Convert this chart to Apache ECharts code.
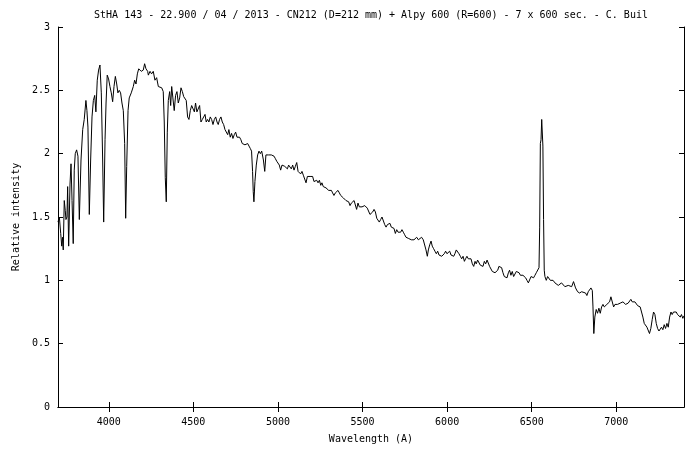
<!DOCTYPE html>
<html>
<head>
<meta charset="utf-8">
<script src="https://cdn.jsdelivr.net/npm/echarts@6/dist/echarts.min.js"></script>
<style>html,body{margin:0;padding:0;background:#fff}#c{width:700px;height:450px}</style>
</head>
<body>
<div id="c"></div>
<script>
const titleText = 'StHA 143 - 22.900 / 04 / 2013 - CN212 (D=212 mm) + Alpy 600 (R=600) - 7 x 600 sec. - C. Buil';
const xTicks = [4000, 4500, 5000, 5500, 6000, 6500, 7000];
const yTicks = [0, 0.5, 1, 1.5, 2, 2.5, 3];

const wavelength = [
3700,3708,3716,3722,3727,3731,3737,3743,3747,3753,3757,3763,3771,3777,3783,3790,3796,3802,3810,3818,
3826,3836,3846,3855,3865,3871,3877,3885,3893,3901,3909,3917,3924,3932,3940,3948,3956,3964,3970,3978,
3984,3991,3999,4007,4015,4023,4031,4039,4047,4054,4062,4070,4078,4086,4094,4100,4106,4114,4121,4133,
4145,4153,4161,4169,4177,4184,4192,4204,4212,4220,4230,
4234,4244,4253,4263,4273,4283,4293,4303,4313,4322,4328,4334,4340,4346,4352,4360,4366,4372,4379,4387,
4395,4403,4411,4419,4427,4435,4443,4450,4458,4466,4474,4482,4490,4498,4506,4513,4521,4529,4537,4545,
4553,4561,4569,4576,4584,4592,4600,4608,4616,4624,4632,4640,4647,4655,4663,4671,4679,4687,4695,4703,
4710,4718,4726,4734,4742,4750,4758,4766,4773,4781,4789,4797,4805,4813,4821,4829,4837,4844,4850,4854,
4858,4864,4872,4880,4888,4896,
4904,4914,4922,4929,4937,4945,4953,4961,4969,4977,4985,4993,5000,5008,5016,5024,5032,5040,5048,5056,
5063,5071,5079,5087,5095,5103,5111,5119,5126,5134,5142,5150,5158,5166,5174,5182,5190,5197,5205,5213,
5221,5229,5237,5245,5253,5260,5268,5276,5284,5292,5300,5308,5316,5323,5331,5339,5347,5355,5363,5371,
5379,5387,5394,5402,5410,5418,5426,5434,5442,5450,5457,5465,5473,5481,5489,5497,5505,5513,5520,5528,
5536,5544,5552,5560,5568,5576,5584,5591,5599,5607,5615,5623,5631,5639,5647,5654,5662,5670,5678,5686,
5694,5702,5710,5717,5725,5733,5741,5749,5757,5765,5773,5781,5788,5796,5804,
5820,5830,5840,5849,5859,5869,5875,5883,5889,5897,5905,5912,5920,5928,5936,5944,5952,5960,5968,5975,
5983,5991,5999,6007,6015,6023,6031,6039,6046,6054,6062,6070,6078,6086,6094,6102,6109,6117,6125,6133,
6141,6149,6157,6165,6172,6180,6188,6196,6204,6212,6220,6228,6236,6243,6251,6259,6267,6275,6283,6291,
6299,6306,6314,6322,6330,6338,6346,6354,6362,6369,6377,6385,6393,6401,6409,6417,6425,6433,6440,6448,
6456,6464,6472,6480,6488,6496,6503,6511,6519,6527,6535,6543,6547,6551,6555,6559,6563,6566,6570,6574,
6578,6586,6594,6602,6610,6618,6626,
6637,6657,6676,6696,6716,6736,6747,6759,6771,6783,6795,6806,6818,6826,6834,6842,6850,6858,6862,6867,
6873,6881,6889,6897,6905,6913,6921,6929,6936,6944,6952,6960,6968,6976,6984,6992,6999,7007,7015,7023,
7031,7039,7047,7055,7063,7070,7078,7086,7094,7102,7110,7118,7126,7133,7141,7149,7157,7165,7173,7181,
7189,7196,7204,7212,7220,7228,7236,7244,7252,7259,7267,7275,7283,7291,7299,7307,7315,7323,7330,7338,
7346,7354,7362,7370,7378,7385,7393,7400
];

const intensity = [
1.46,1.50,1.37,1.27,1.34,1.24,1.63,1.55,1.48,1.50,1.74,1.27,1.76,1.92,1.63,1.29,1.87,2.00,2.03,1.98,
1.48,1.95,2.19,2.27,2.42,2.34,2.21,1.52,1.95,2.29,2.42,2.46,2.33,2.58,2.66,2.70,2.48,1.95,1.46,2.11,
2.40,2.62,2.59,2.53,2.48,2.41,2.53,2.61,2.55,2.48,2.50,2.48,2.40,2.34,2.08,1.49,1.90,2.34,2.44,2.48,
2.53,2.58,2.55,2.63,2.67,2.66,2.65,2.66,2.71,2.67,2.65,
2.62,2.65,2.63,2.65,2.58,2.60,2.53,2.52,2.52,2.49,2.25,1.81,1.62,2.17,2.42,2.49,2.38,2.53,2.44,2.34,
2.46,2.49,2.40,2.44,2.52,2.49,2.45,2.45,2.42,2.29,2.27,2.34,2.38,2.37,2.33,2.40,2.33,2.32,2.38,2.25,
2.27,2.29,2.31,2.25,2.27,2.25,2.29,2.27,2.23,2.27,2.29,2.25,2.23,2.27,2.29,2.25,2.23,2.19,2.20,2.15,
2.19,2.13,2.16,2.12,2.15,2.17,2.13,2.12,2.13,2.11,2.08,2.09,2.07,2.07,2.08,2.06,2.04,2.02,1.86,1.70,
1.62,1.78,1.91,1.99,2.02,2.00,
2.02,1.95,1.86,1.99,1.98,1.99,1.98,1.99,2.00,1.98,1.96,1.94,1.95,1.91,1.87,1.91,1.92,1.90,1.91,1.88,
1.91,1.90,1.88,1.91,1.87,1.90,1.93,1.86,1.87,1.84,1.86,1.83,1.84,1.77,1.82,1.81,1.82,1.83,1.82,1.78,
1.78,1.79,1.77,1.79,1.75,1.77,1.74,1.74,1.73,1.74,1.71,1.70,1.71,1.69,1.67,1.69,1.70,1.71,1.69,1.67,
1.66,1.65,1.66,1.63,1.64,1.62,1.59,1.61,1.62,1.63,1.62,1.56,1.61,1.58,1.59,1.58,1.58,1.59,1.58,1.57,
1.56,1.52,1.53,1.54,1.56,1.54,1.49,1.48,1.46,1.48,1.50,1.49,1.44,1.42,1.44,1.45,1.45,1.42,1.41,1.41,
1.37,1.40,1.38,1.37,1.38,1.40,1.38,1.36,1.34,1.34,1.33,1.34,1.32,1.33,1.32,
1.34,1.32,1.33,1.34,1.32,1.31,1.24,1.19,1.24,1.28,1.31,1.27,1.25,1.23,1.21,1.23,1.20,1.21,1.19,1.20,
1.21,1.23,1.21,1.20,1.23,1.20,1.21,1.19,1.21,1.24,1.23,1.21,1.19,1.17,1.19,1.15,1.17,1.19,1.17,1.16,
1.17,1.13,1.11,1.15,1.13,1.16,1.15,1.12,1.13,1.11,1.15,1.13,1.16,1.17,1.11,1.10,1.07,1.08,1.06,1.07,
1.08,1.11,1.12,1.10,1.06,1.03,1.04,1.02,1.06,1.08,1.04,1.07,1.03,1.02,1.07,1.08,1.06,1.04,1.03,1.04,
1.03,1.02,1.00,0.98,0.99,1.03,1.04,1.02,1.04,1.06,1.07,1.10,1.42,2.08,2.11,2.27,2.27,2.06,1.48,1.08,
1.03,1.00,1.03,1.02,1.00,0.99,1.00,
0.98,0.96,0.98,0.95,0.96,0.95,0.99,0.94,0.91,0.90,0.91,0.90,0.90,0.88,0.91,0.90,0.94,0.92,0.79,0.58,
0.71,0.77,0.74,0.78,0.74,0.79,0.81,0.79,0.79,0.81,0.82,0.83,0.87,0.86,0.79,0.81,0.82,0.81,0.82,0.82,
0.81,0.83,0.82,0.81,0.82,0.82,0.83,0.85,0.83,0.82,0.83,0.82,0.80,0.81,0.79,0.75,0.71,0.66,0.65,0.63,
0.62,0.58,0.62,0.69,0.75,0.73,0.66,0.62,0.60,0.61,0.63,0.61,0.65,0.62,0.66,0.63,0.71,0.75,0.73,0.75,
0.74,0.75,0.73,0.74,0.71,0.73,0.70,0.72
];

const seriesData = wavelength.map((w, i) => [w, intensity[i]]);

const FONT = 'DejaVu Sans Mono';
const chart = echarts.init(document.getElementById('c'), null, {renderer: 'canvas'});
const axisCommon = {
  axisLine: {show: true, lineStyle: {color: '#000', width: 1}},
  splitLine: {show: false},
};
chart.setOption({
  animation: false,
  backgroundColor: '#fff',
  title: {
    text: titleText,
    left: 366,
    textAlign: 'center',
    top: 5,
    textStyle: {fontFamily: FONT, fontSize: 10, fontWeight: 'normal', color: '#000'}
  },
  grid: {left: 58, right: 16, top: 27, bottom: 43, outerBoundsMode: 'none', containLabel: false},
  xAxis: [
    Object.assign({
      type: 'value', min: 3700, max: 7400, position: 'bottom',
      name: 'Wavelength (A)', nameLocation: 'middle', nameGap: 27,
      nameTextStyle: {fontFamily: FONT, fontSize: 10, color: '#000'},
      axisTick: {show: true, inside: true, length: 5, customValues: xTicks, lineStyle: {color: '#000'}},
      axisLabel: {customValues: xTicks, fontFamily: FONT, fontSize: 10, color: '#000', margin: 10,
        formatter: v => String(v)}
    }, axisCommon),
    Object.assign({
      type: 'value', min: 3700, max: 7400, position: 'top',
      axisTick: {show: true, inside: true, length: 5, customValues: xTicks, lineStyle: {color: '#000'}},
      axisLabel: {show: false, customValues: xTicks}
    }, axisCommon)
  ],
  yAxis: [
    Object.assign({
      type: 'value', min: 0, max: 3, interval: 0.5, position: 'left',
      name: 'Relative intensity', nameLocation: 'middle', nameGap: 36, nameRotate: 90,
      nameTextStyle: {fontFamily: FONT, fontSize: 10, color: '#000'},
      axisTick: {show: true, inside: true, length: 5, lineStyle: {color: '#000'}},
      axisLabel: {fontFamily: FONT, fontSize: 10, color: '#000', margin: 8,
        formatter: v => String(v)}
    }, axisCommon),
    Object.assign({
      type: 'value', min: 0, max: 3, interval: 0.5, position: 'right',
      axisTick: {show: true, inside: true, length: 5, lineStyle: {color: '#000'}},
      axisLabel: {show: false}
    }, axisCommon)
  ],
  series: [{
    type: 'line',
    data: seriesData,
    xAxisIndex: 0, yAxisIndex: 0,
    showSymbol: false,
    symbol: 'none',
    lineStyle: {color: '#000', width: 1},
    itemStyle: {color: '#000'},
    silent: true
  }]
});
</script>
</body>
</html>
